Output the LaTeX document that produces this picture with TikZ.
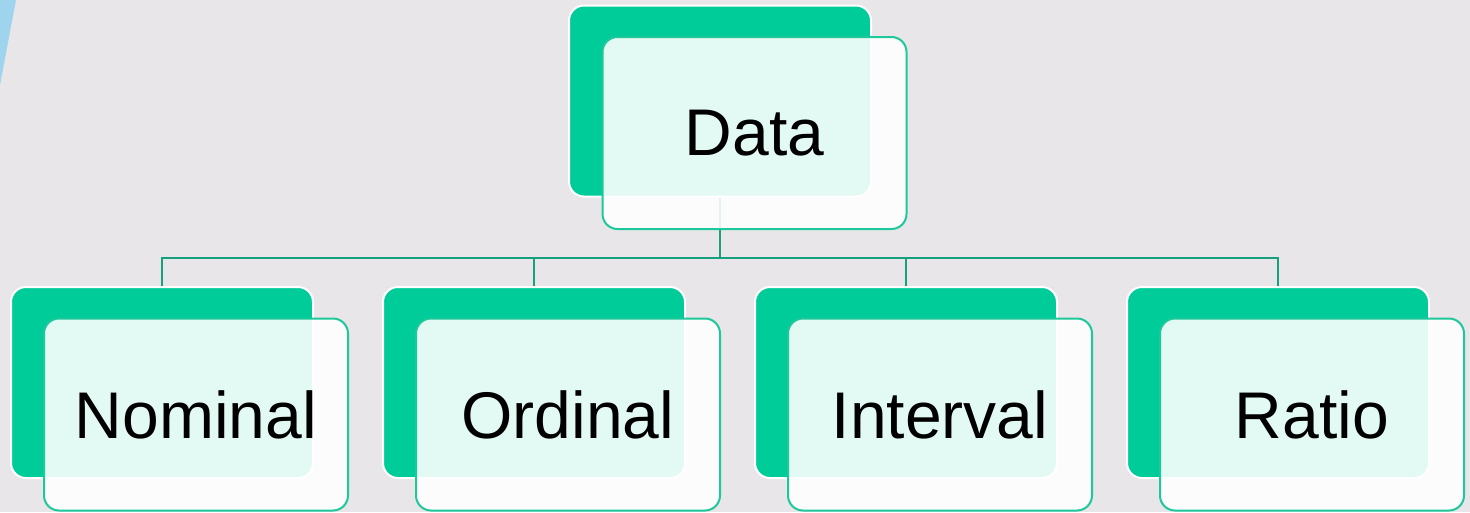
\documentclass[tikz,border=0pt]{standalone}
\usepackage{fontspec}
\setmainfont{Liberation Sans}
\definecolor{bgc}{HTML}{E8E6E9}
\definecolor{grn}{HTML}{00CC99}
\definecolor{edge}{HTML}{1DC99A}
\definecolor{conn}{HTML}{17A080}
\definecolor{streak}{HTML}{9FD4EE}
\tikzset{
  backbox/.style={draw=white, line width=2pt, fill=grn, rounded corners=15pt,
    minimum width=302pt, minimum height=191pt, inner sep=0pt},
  frontbox/.style={draw=edge, line width=2pt, fill=white, fill opacity=0.89, text opacity=1,
    rounded corners=15pt, minimum width=304pt, minimum height=192pt, inner sep=0pt,
    font=\fontsize{66}{70}\selectfont},
  connline/.style={draw=conn, line width=2pt}
}
\begin{document}
\begin{tikzpicture}[x=1pt,y=-1pt]
\fill[bgc] (0,0) rectangle (1470,512);
\useasboundingbox (0,0) rectangle (1470,512);
\fill[streak] (0,0) -- (16,0) -- (0,85) -- cycle;
% back boxes
\node[backbox] (dataB) at (720,101) {};
\node[backbox] (nomB) at (162,382.5) {};
\node[backbox] (ordB) at (534,382.5) {};
\node[backbox] (intB) at (906,382.5) {};
\node[backbox] (ratB) at (1278,382.5) {};
% connectors
\coordinate (j) at (720,258);
\draw[connline] (dataB.south) -- (j);
\draw[connline] (nomB.north) |- (j);
\draw[connline] (ordB.north) |- (j);
\draw[connline] (intB.north) |- (j);
\draw[connline] (ratB.north) |- (j);
% front boxes
\node[frontbox] (dataF) at (754.5,133) {Data};
\node[frontbox] (nomF) at (196,414.5) {Nominal};
\node[frontbox] (ordF) at (568,414.5) {Ordinal};
\node[frontbox] (intF) at (940,414.5) {Interval};
\node[frontbox] (ratF) at (1312,414.5) {Ratio};
\end{tikzpicture}
\end{document}
